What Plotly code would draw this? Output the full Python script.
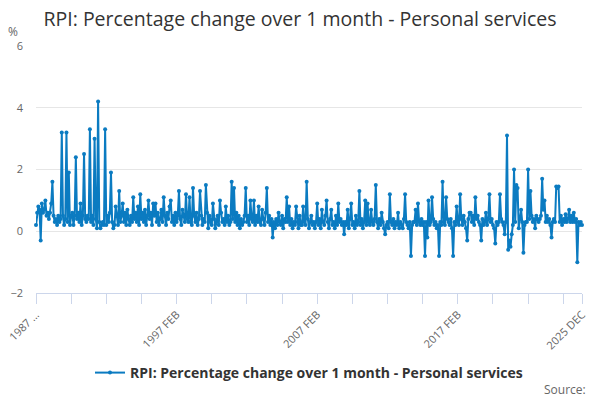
import plotly.graph_objects as go

# monthly % change, RPI personal services (1987 FEB .. 2025 DEC)
month_names = ["JAN", "FEB", "MAR", "APR", "MAY", "JUN",
               "JUL", "AUG", "SEP", "OCT", "NOV", "DEC"]

y1987 = [0.2, 0.6, 0.8, 0.7, -0.3, 0.9, 0.6, 0.7, 1.0, 0.5, 0.6]  # starts FEB
y1988 = [0.4, 0.6, 0.9, 1.6, 0.5, 0.3, 0.4, 0.2, 0.5, 0.3, 0.4, 3.2]
y1989 = [0.5, 0.2, 0.4, 3.2, 0.3, 1.9, 0.2, 0.5, 0.6, 0.2, 0.5, 2.4]
y1990 = [0.4, 0.6, 0.3, 0.9, 0.2, 0.5, 2.5, 0.4, 0.3, 0.5, 0.4, 3.3]
y1991 = [0.3, 0.5, 0.2, 3.0, 0.4, 0.1, 4.2, 0.3, 0.1, 0.2, 0.3, 0.2]
y1992 = [3.3, 0.2, 0.5, 0.3, 0.6, 1.9, 0.3, 0.1, 0.2, 0.8, 0.5, 0.2]
y1993 = [1.3, 0.3, 0.5, 0.9, 0.3, 0.6, 0.2, 0.7, 0.4, 0.2, 0.5, 0.3]
y1994 = [1.1, 0.4, 0.6, 0.3, 0.8, 0.2, 1.2, 0.4, 0.6, 0.3, 0.7, 0.2]
y1995 = [0.5, 1.0, 0.4, 0.6, 0.2, 0.9, 0.5, 0.9, 0.3, 0.6, 0.2, 0.4]
y1996 = [0.7, 0.3, 1.1, 0.5, 0.2, 0.6, 0.4, 0.8, 1.0, 0.3, 0.5, 0.2]
y1997 = [0.6, 0.3, 0.5, 1.3, 0.4, 0.2, 0.7, 0.5, 0.3, 1.2, 0.4, 0.3]
y1998 = [1.1, 0.3, 0.2, 1.4, 0.5, 0.3, 0.6, 0.2, 0.4, 1.3, 0.5, 0.2]
y1999 = [0.4, 0.3, 1.5, 0.6, 0.1, 0.5, 0.3, 0.2, 0.9, 0.4, 0.1, 0.3]
y2000 = [0.5, 0.2, 1.0, 0.6, 0.3, 0.4, 0.2, 0.8, 0.3, 0.5, 0.2, 0.3]
y2001 = [1.6, 0.4, 1.4, 0.3, 0.6, 0.2, 0.5, 0.1, 0.4, 0.2, 0.3, 0.5]
y2002 = [1.4, 0.3, 0.5, 0.2, 1.0, 0.4, 0.3, 1.0, 0.2, 0.5, 0.3, 0.8]
y2003 = [0.3, 0.2, 0.7, 0.4, 0.2, 0.6, 1.4, 0.3, 0.5, 0.2, 0.4, -0.2]
y2004 = [0.3, 0.1, 0.4, 0.2, 0.6, 0.3, 0.2, 0.5, 0.1, 0.4, 0.3, 1.1]
y2005 = [0.3, 0.8, 0.2, 0.4, 0.1, 0.3, 0.2, 0.8, 0.3, 0.1, 0.5, 0.2]
y2006 = [0.2, 0.8, 0.3, 0.2, 1.6, 0.4, 0.1, 0.3, 0.5, 0.2, 0.3, 0.1]
y2007 = [0.3, 0.9, 0.2, 0.4, 0.1, 0.7, 0.3, 0.2, 0.5, 1.0, 0.3, 0.1]
y2008 = [0.4, 0.7, 0.2, 0.3, 0.1, 0.5, 0.2, 0.9, 0.3, 0.4, 0.2, 0.3]
y2009 = [-0.1, 0.3, 0.2, 0.7, 0.1, 0.4, 0.9, 0.2, 0.3, 0.1, 0.5, 0.2]
y2010 = [0.3, 1.3, 0.2, 0.4, 0.1, 0.3, 1.0, 0.2, 0.9, 0.3, 0.2, 0.7]
y2011 = [0.3, 0.2, 0.4, 1.5, 0.3, 0.1, 0.4, 0.2, 0.6, 0.3, 0.1, -0.1]
y2012 = [0.2, 0.3, 0.1, 1.2, 0.3, 0.2, 0.4, 0.1, 0.3, 0.2, 0.6, 0.1]
y2013 = [0.3, 0.2, 0.1, 0.4, 1.2, 0.3, 0.2, 0.1, 0.3, -0.8, 0.2, 0.3]
y2014 = [0.3, 0.7, 0.2, 0.9, 0.3, 0.2, 0.4, 0.2, 0.3, -0.8, 0.3, -0.2]
y2015 = [1.0, 0.2, 0.3, 1.1, 0.4, 0.2, 0.3, 0.1, 0.2, -0.8, 0.3, 0.2]
y2016 = [1.6, 0.3, 0.2, 1.1, 0.4, 0.3, 0.2, 0.4, 0.1, -0.8, 0.3, 0.2]
y2017 = [0.8, 0.3, 0.2, 1.2, 0.4, 0.2, 0.5, 0.3, 0.1, -0.3, 0.4, 0.6]
y2018 = [0.6, 0.3, 0.5, 0.2, 1.1, 0.4, 0.5, 0.3, 0.2, -0.3, 0.4, 0.2]
y2019 = [0.3, 0.6, 0.2, 0.4, 1.2, 0.3, 0.4, 0.2, 0.1, -0.4, 0.3, 0.2]
y2020 = [0.3, 1.2, 0.4, 0.3, 0.2, -0.1, 0.3, 3.1, -0.6, -0.3, -0.5, -0.1]
y2021 = [0.2, 2.0, 0.3, 1.5, 1.4, 0.1, 0.4, 0.7, 0.3, -0.7, 0.2, 0.3]
y2022 = [0.3, 2.0, 0.4, 1.3, 0.5, 0.3, 0.4, 0.1, 0.5, 0.4, 0.3, 0.4]
y2023 = [0.5, 1.7, 0.7, 1.0, 0.3, 0.5, 0.3, 0.4, 0.2, -0.2, 0.3, 0.4]
y2024 = [0.3, 1.45, 1.4, 1.45, 0.3, 0.5, 0.2, 0.4, 0.3, 0.55, 0.3, 0.4]
y2025 = [0.7, 0.3, 0.5, 0.3, 0.6, 0.3, 0.4, -1.0, 0.3, 0.2, 0.3, 0.2]

yearly = [y1987, y1988, y1989, y1990, y1991, y1992, y1993, y1994, y1995, y1996,
          y1997, y1998, y1999, y2000, y2001, y2002, y2003, y2004, y2005, y2006,
          y2007, y2008, y2009, y2010, y2011, y2012, y2013, y2014, y2015, y2016,
          y2017, y2018, y2019, y2020, y2021, y2022, y2023, y2024, y2025]

dates = []
values = []
for n, vals in enumerate(yearly):
    year = 1987 + n
    first = 12 - len(vals)
    for m, v in enumerate(vals):
        dates.append(f"{year} {month_names[first + m]}")
        values.append(v)

# x ticks every 30 months, labels every 120 + the last one
label_dates = ["1987 FEB", "1997 FEB", "2007 FEB", "2017 FEB", "2025 DEC"]
label_text = ["1987 \u2026", "1997 FEB", "2007 FEB", "2017 FEB", "2025 DEC"]

tick_vals = dates[::30] + [dates[-1]]
tick_text = []
for d in tick_vals:
    if d in label_dates:
        tick_text.append(label_text[label_dates.index(d)])
    else:
        tick_text.append("")

blue = "#0b7bc1"
grey = "#666666"
axis_col = "#ccd6eb"

fig = go.Figure()
fig.add_scatter(x=dates, y=values, mode="lines+markers",
                name="RPI: Percentage change over 1 month - Personal services",
                line=dict(color=blue, width=2),
                marker=dict(color=blue, size=4),
                cliponaxis=False)

fig.update_layout(
    width=600, height=400,
    margin=dict(l=36, r=18, t=46, b=107),
    paper_bgcolor="white", plot_bgcolor="white",
    font=dict(family="Open Sans, DejaVu Sans, sans-serif", color=grey, size=11),
    title=dict(text="RPI: Percentage change over 1 month - Personal services",
               x=0.5, xanchor="center", y=0.953, yanchor="middle",
               font=dict(size=19.5, color="#333333")),
    showlegend=True,
    legend=dict(orientation="h", x=0.5, xanchor="center",
                yref="container", y=0.0675, yanchor="middle",
                font=dict(size=14, color="#333333", weight="bold"),
                itemwidth=30),
    annotations=[
        dict(text="%", xref="paper", yref="paper", x=-0.03, y=1.057,
             xanchor="right", yanchor="middle", showarrow=False,
             font=dict(size=12, color=grey)),
        dict(text="Source:", xref="paper", yref="paper", x=1.011, y=-0.389,
             xanchor="right", yanchor="middle", showarrow=False,
             font=dict(size=12, color=grey)),
    ],
)

fig.update_xaxes(type="category", range=[0, len(dates) - 1], automargin=False,
                 tickmode="array", tickvals=tick_vals, ticktext=tick_text,
                 tickangle=-45, ticks="outside", ticklen=10, tickcolor=axis_col,
                 showline=True, linecolor=axis_col, showgrid=False,
                 tickfont=dict(size=11, color=grey))
fig.update_yaxes(range=[-2, 6], dtick=2, showgrid=True, gridcolor="#e6e6e6",
                 zeroline=False, showline=False, ticks="", automargin=False,
                 ticklabelstandoff=12, tickfont=dict(size=11, color=grey))

# drop the page's default body margin so the figure fills the window
fig.write_html("out.html", config={"displayModeBar": False},
               post_script="document.body.style.margin='0';")
